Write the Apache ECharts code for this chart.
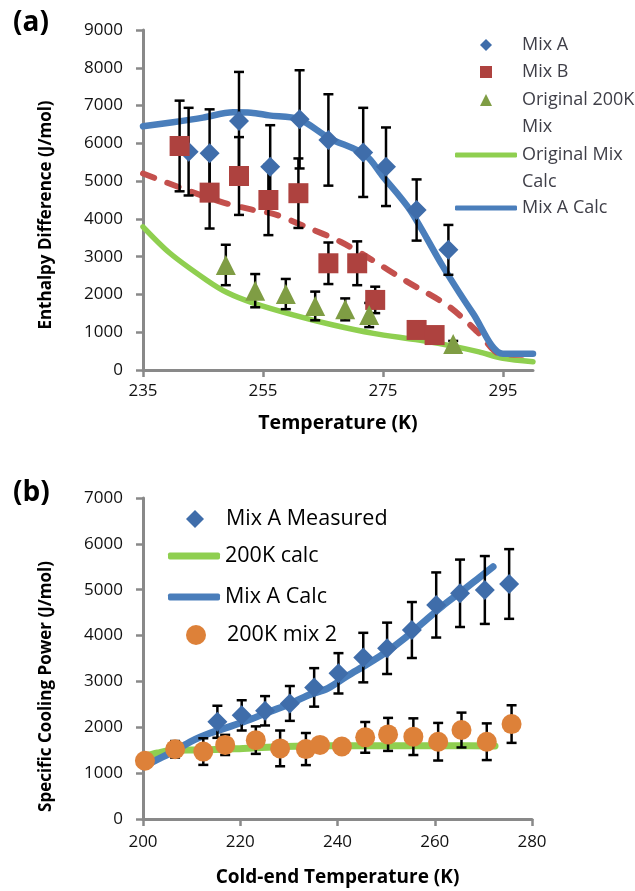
<!DOCTYPE html>
<html>
<head>
<meta charset="utf-8">
<script src="https://cdn.jsdelivr.net/npm/echarts@6/dist/echarts.min.js"></script>
<style>
  html, body { margin: 0; padding: 0; background: #fff; }
  #chart { width: 635px; height: 891px; }
</style>
</head>
<body>
<div id="chart"></div>
<script>
// ---------- Panel (a): enthalpy difference vs temperature ----------
var mixA_T   = [242.6, 246.1, 251.0, 256.2, 261.1, 265.9, 271.7, 275.5, 280.6, 285.9];
var mixA_H   = [5780, 5735, 6590, 5380, 6635, 6090, 5760, 5380, 4235, 3180];
var mixA_err = [1160, 1165, 1300, 1100, 1300, 1210, 1180, 1040, 810, 660];

var mixB_T   = [241.1, 246.1, 251.0, 255.9, 260.9, 265.9, 270.7, 273.7, 280.6, 283.6];
var mixB_H   = [5930, 4695, 5135, 4500, 4680, 2825, 2825, 1855, 1060, 925];
var mixB_err = [1200, 950, 1030, 930, 920, 550, 580, 350, 0, 0];

var orig_T   = [248.8, 253.7, 258.8, 263.7, 268.7, 272.7, 286.7];
var orig_H   = [2780, 2100, 2010, 1695, 1605, 1455, 690];
var orig_err = [535, 440, 400, 380, 290, 320, 80];

var origCalc_T = [235, 239.5, 245.5, 249, 253.4, 260, 266.7, 273.4, 281, 287, 291, 295, 300];
var origCalc_H = [3790, 3090, 2390, 2050, 1770, 1460, 1190, 970, 790, 620, 480, 310, 220];

var mixACalc_T = [235, 240, 245, 250, 253, 256, 261, 266, 272, 275, 279.5, 285, 290, 295, 300];
var mixACalc_H = [6450, 6560, 6680, 6820, 6810, 6740, 6640, 6140, 5700, 5120, 4235, 2735, 1500, 430, 430];

var mixBCalc_T = [235, 242, 248, 253, 257, 262, 268, 273, 279, 286, 291, 294.5, 300];
var mixBCalc_H = [5200, 4780, 4450, 4250, 4120, 3800, 3390, 2930, 2340, 1680, 970, 430, 400];

var ticksA_x = [235, 255, 275, 295];

// ---------- Panel (b): specific cooling power vs cold-end temperature ----------
var measA_T   = [215.3, 220.3, 225.1, 230.2, 235.2, 240.2, 245.3, 250.2, 255.3, 260.3, 265.2, 270.3, 275.3];
var measA_P   = [2120, 2260, 2360, 2520, 2870, 3177, 3520, 3722, 4121, 4667, 4922, 4994, 5125];
var measA_err = [350, 330, 320, 380, 420, 440, 540, 560, 610, 710, 735, 740, 760];

var calc200_T = [200, 203, 206.2, 212.4, 220.6, 228.2, 236.4, 249.4, 263, 272.4];
var calc200_P = [1360, 1440, 1500, 1505, 1540, 1577, 1600, 1600, 1600, 1592];

var calcA_T = [200, 203, 206.2, 210, 214, 218, 222, 226, 230, 234, 238, 242, 246, 250, 254, 258, 262, 266, 269, 272];
var calcA_P = [1140, 1300, 1470, 1700, 1880, 2020, 2170, 2340, 2500, 2700, 2850, 3120, 3370, 3640, 3960, 4320, 4680, 5000, 5250, 5500];

var mix2_T   = [200.4, 206.6, 212.4, 216.9, 223.2, 228.2, 233.5, 236.4, 240.9, 245.7, 250.4, 255.6, 260.7, 265.5, 270.7, 275.8];
var mix2_P   = [1270, 1520, 1470, 1615, 1720, 1540, 1525, 1615, 1580, 1780, 1845, 1795, 1685, 1940, 1685, 2070];
var mix2_err = [0, 180, 290, 220, 300, 390, 350, 140, 100, 335, 360, 400, 410, 380, 400, 410];

// ---------- helpers ----------
var FONT = "'Open Sans', 'Noto Sans', sans-serif";
var AXIS_GRAY = '#898989';

// legend swatches as paths so they keep their proportions
var ICON_DIAMOND  = 'path://M5,0L10,5L5,10L0,5Z';
var ICON_SQUARE   = 'path://M0,0H10V10H0Z';
var ICON_TRIANGLE = 'path://M5,0L10,10H0Z';
var ICON_CIRCLE   = 'path://M0,5A5,5 0 1,1 10,5A5,5 0 1,1 0,5Z';

function pairs(xs, ys) {
  return xs.map(function (x, i) { return [x, ys[i]]; });
}
function bars(xs, ys, errs) {
  var out = [];
  xs.forEach(function (x, i) {
    if (errs[i] > 0) out.push([x, ys[i] - errs[i], ys[i] + errs[i]]);
  });
  return out;
}
function errorBars(idx, data) {
  return {
    type: 'custom', xAxisIndex: idx, yAxisIndex: idx, z: 3, silent: true,
    data: data,
    encode: { x: 0, y: [1, 2] },
    renderItem: function (params, api) {
      var x = api.value(0);
      var top = api.coord([x, api.value(2)]);
      var bot = api.coord([x, api.value(1)]);
      var h = 5;
      var st = { stroke: '#000', lineWidth: 2.5 };
      return {
        type: 'group',
        children: [
          { type: 'line', shape: { x1: top[0], y1: top[1], x2: bot[0], y2: bot[1] }, style: st },
          { type: 'line', shape: { x1: top[0] - h, y1: top[1], x2: top[0] + h, y2: top[1] }, style: st },
          { type: 'line', shape: { x1: bot[0] - h, y1: bot[1], x2: bot[0] + h, y2: bot[1] }, style: st }
        ]
      };
    }
  };
}
function lineSeries(idx, name, data, color, width, lineType) {
  return {
    type: 'line', name: name, xAxisIndex: idx, yAxisIndex: idx, z: 2,
    data: data, symbol: 'none', smooth: 0.3,
    lineStyle: { color: color, width: width, type: lineType || 'solid', cap: 'round', join: 'round' },
    itemStyle: { color: color }
  };
}
function scatterSeries(idx, name, data, symbol, size, color) {
  return {
    type: 'scatter', name: name, xAxisIndex: idx, yAxisIndex: idx, z: 4,
    data: data, symbol: symbol, symbolSize: size, symbolKeepAspect: true,
    itemStyle: { color: color, opacity: 1 }
  };
}
// one legend block per entry so each row sits exactly where it belongs;
// rowCenter is the vertical centre of the row carrying the icon
function legendItem(name, icon, left, rowCenter, iw, ih, font, color, lh, label) {
  // two-line labels get an empty leading line so the icon lines up with the first line
  var text = label ? '\n' + label : name;
  var blockLines = label ? label.split('\n').length + 1 : 1;
  return {
    data: [{ name: name, icon: icon }],
    left: left, top: rowCenter - blockLines * lh / 2, padding: 0,
    itemWidth: iw, itemHeight: ih, selectedMode: false,
    formatter: function () { return text; },
    textStyle: { fontFamily: FONT, fontSize: font, color: color, lineHeight: lh }
  };
}
function plainNumber(v) { return String(v); }
function valueAxis(min, max, interval) {
  return {
    type: 'value', min: min, max: max, interval: interval,
    axisLine: { show: true, lineStyle: { color: AXIS_GRAY, width: 3 } },
    axisTick: { show: true, length: 7, lineStyle: { color: AXIS_GRAY, width: 2.5 } },
    splitLine: { show: false },
    axisLabel: { fontFamily: FONT, fontSize: 17, color: '#111', formatter: plainNumber }
  };
}

// ---------- axes ----------
var xA = valueAxis(235, 300, 20);
xA.gridIndex = 0;
xA.axisTick.customValues = ticksA_x;
xA.axisLabel.customValues = ticksA_x;
xA.axisLabel.margin = 13;
xA.name = 'Temperature (K)';
xA.nameLocation = 'middle';
xA.nameGap = 43;
xA.nameTextStyle = { fontFamily: FONT, fontSize: 19.5, fontWeight: 'bold', color: '#000' };

var yA = valueAxis(0, 9000, 1000);
yA.gridIndex = 0;
yA.axisLabel.margin = 20;
yA.name = 'Enthalpy Difference (J/mol)';
yA.nameLocation = 'middle';
yA.nameGap = 88;
yA.nameTextStyle = { fontFamily: FONT, fontSize: 17, fontWeight: 'bold', color: '#000', padding: [0, 30, 0, 0] };

var xB = valueAxis(200, 280, 20);
xB.gridIndex = 1;
xB.axisLabel.margin = 15;
xB.name = 'Cold-end Temperature (K)';
xB.nameLocation = 'middle';
xB.nameGap = 49;
xB.nameTextStyle = { fontFamily: FONT, fontSize: 19, fontWeight: 'bold', color: '#000' };

var yB = valueAxis(0, 7000, 1000);
yB.gridIndex = 1;
yB.axisLabel.margin = 20;
yB.name = 'Specific Cooling Power (J/mol)';
yB.nameLocation = 'middle';
yB.nameGap = 88;
yB.nameTextStyle = { fontFamily: FONT, fontSize: 17, fontWeight: 'bold', color: '#000', padding: [0, 56, 0, 0] };

// ---------- colours ----------
var BLUE_LINE = '#4A7EBB', BLUE_MARK = '#3F6DAA';
var RED_MARK = '#AE423F', RED_LINE = '#C4504D';
var GREEN_MARK = '#7F9D44', GREEN_LINE = '#8FCF50';
var ORANGE = '#DD8139';

var LEG_A = '#3f3f48';

var option = {
  animation: false,
  backgroundColor: '#fff',
  title: [
    { text: '(a)', left: 8, top: 4, textStyle: { fontFamily: FONT, fontSize: 28, fontWeight: 'bold', color: '#000' } },
    { text: '(b)', left: 8, top: 474, textStyle: { fontFamily: FONT, fontSize: 28, fontWeight: 'bold', color: '#000' } }
  ],
  grid: [
    { left: 143, top: 30, width: 390, height: 340 },
    { left: 143, top: 498, width: 389, height: 321 }
  ],
  xAxis: [xA, xB],
  yAxis: [yA, yB],
  legend: [
    legendItem('Mix A', ICON_DIAMOND, 480, 45, 62, 12, 18, LEG_A, 27),
    legendItem('Mix B', ICON_SQUARE, 480, 72, 62, 12, 18, LEG_A, 27),
    legendItem('Original 200K Mix', ICON_TRIANGLE, 480, 100, 62, 12, 18, LEG_A, 27, 'Original 200K\nMix'),
    legendItem('Original Mix Calc', 'roundRect', 455, 155, 62, 5, 18, LEG_A, 27, 'Original Mix\nCalc'),
    legendItem('Mix A Calc', 'roundRect', 455, 208, 62, 5, 18, LEG_A, 27),
    legendItem('Mix A Measured', ICON_DIAMOND, 186, 519, 52, 18, 21.5, '#000', 30),
    legendItem('200K calc', 'roundRect', 168, 556, 52, 7, 21.5, '#000', 30),
    legendItem('Mix A Calc', 'roundRect', 168, 597, 52, 7, 21.5, '#000', 30),
    legendItem('200K mix 2', ICON_CIRCLE, 186, 635, 52, 20, 21.5, '#000', 30)
  ],
  series: [
    // panel (a)
    lineSeries(0, 'Original Mix Calc', pairs(origCalc_T, origCalc_H), GREEN_LINE, 5.5),
    lineSeries(0, 'Mix B Calc', pairs(mixBCalc_T, mixBCalc_H), RED_LINE, 6, [12, 14]),
    lineSeries(0, 'Mix A Calc', pairs(mixACalc_T, mixACalc_H), BLUE_LINE, 6.5),
    errorBars(0, bars(mixA_T, mixA_H, mixA_err)),
    errorBars(0, bars(mixB_T, mixB_H, mixB_err)),
    errorBars(0, bars(orig_T, orig_H, orig_err)),
    scatterSeries(0, 'Mix A', pairs(mixA_T, mixA_H), 'diamond', 20, BLUE_MARK),
    scatterSeries(0, 'Mix B', pairs(mixB_T, mixB_H), 'rect', 20, RED_MARK),
    scatterSeries(0, 'Original 200K Mix', pairs(orig_T, orig_H), 'triangle', 20, GREEN_MARK),
    // panel (b)
    lineSeries(1, '200K calc', pairs(calc200_T, calc200_P), GREEN_LINE, 7),
    lineSeries(1, 'Mix A Calc', pairs(calcA_T, calcA_P), BLUE_LINE, 7),
    errorBars(1, bars(measA_T, measA_P, measA_err)),
    errorBars(1, bars(mix2_T, mix2_P, mix2_err)),
    scatterSeries(1, 'Mix A Measured', pairs(measA_T, measA_P), 'diamond', 20, BLUE_MARK),
    scatterSeries(1, '200K mix 2', pairs(mix2_T, mix2_P), 'circle', 20, ORANGE)
  ]
};

var chart = echarts.init(document.getElementById('chart'), null, { renderer: 'canvas' });
chart.setOption(option);
</script>
</body>
</html>
